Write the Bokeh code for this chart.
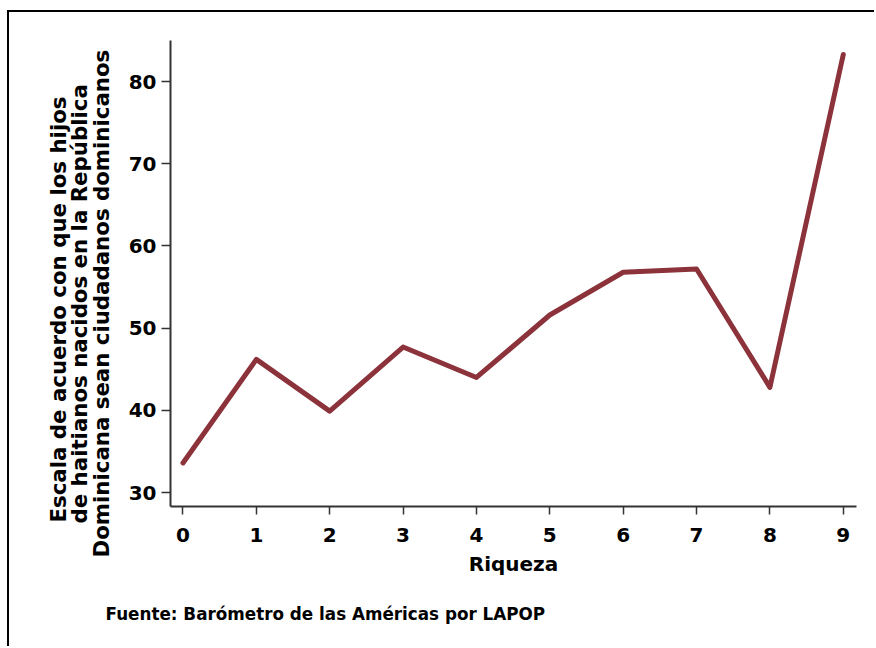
from bokeh.plotting import figure
from bokeh.models import Range1d, FixedTicker, Title
from bokeh.embed import file_html
from bokeh.resources import INLINE

riqueza = [0, 1, 2, 3, 4, 5, 6, 7, 8, 9]
escala = [33.6, 46.2, 39.9, 47.7, 44.0, 51.6, 56.8, 57.2, 42.8, 83.3]
x_ticks = [0, 1, 2, 3, 4, 5, 6, 7, 8, 9]
y_ticks = [30, 40, 50, 60, 70, 80]
y_title = ["Escala de acuerdo con que los hijos",
           "de haitianos nacidos en la República",
           "Dominicana sean ciudadanos dominicanos"]
x_title = "Riqueza"
fuente = "Fuente: Barómetro de las Américas por LAPOP"

FONT = "DejaVu Sans"

p = figure(width=867, height=636, output_backend="svg", toolbar_location=None,
           x_range=Range1d(-0.17, 9.18), y_range=Range1d(28.3, 85),
           min_border_left=161, min_border_right=20, min_border_top=28,
           min_border_bottom=142)
p.styles = {"border-left": "2px solid black", "border-top": "2px solid black",
            "margin-left": "7px", "margin-top": "10px"}
p.outline_line_color = None
p.xgrid.grid_line_color = None
p.ygrid.grid_line_color = None
p.background_fill_color = "white"
p.border_fill_color = "white"

p.line(riqueza, escala, line_color="#8B323A", line_width=5,
       line_cap="round", line_join="round")

for ax in (p.xaxis[0], p.yaxis[0]):
    ax.axis_line_color = "#333333"
    ax.axis_line_width = 2
    ax.major_tick_line_color = "#333333"
    ax.major_tick_line_width = 1.5
    ax.minor_tick_line_color = None
    ax.major_tick_in = 0
    ax.major_label_text_font = FONT
    ax.major_label_text_font_style = "bold"
    ax.major_label_text_font_size = "20px"
    ax.major_label_text_color = "black"

p.xaxis[0].ticker = FixedTicker(ticks=x_ticks)
p.xaxis[0].major_tick_out = 8
p.xaxis[0].major_label_standoff = 13
p.xaxis[0].axis_label = x_title
p.xaxis[0].axis_label_text_font = FONT
p.xaxis[0].axis_label_text_font_style = "bold"
p.xaxis[0].axis_label_text_font_size = "20px"
p.xaxis[0].axis_label_text_color = "black"
p.xaxis[0].axis_label_standoff = 7

p.yaxis[0].ticker = FixedTicker(ticks=y_ticks)
p.yaxis[0].major_tick_out = 9
p.yaxis[0].major_label_standoff = 5

# small spacer between the tick labels and the y-axis title
p.add_layout(Title(text=" ", standoff=9, text_font_size="1px"), "left")

# y-axis title: three stacked lines, innermost first (line 3, 2, 1)
offsets = [-51, -17, -16]
standoffs = [0, -11, 0]
for txt, off, so in zip(reversed(y_title), offsets, standoffs):
    p.add_layout(Title(text=txt, align="left", offset=off, standoff=so,
                       text_font=FONT, text_font_style="bold",
                       text_font_size="21.3px", text_color="black"), "left")

p.add_layout(Title(text=fuente, align="left", offset=-65, standoff=46,
                   text_font=FONT, text_font_style="bold",
                   text_font_size="16.8px", text_color="black"), "below")

open("out.html", "w").write(file_html(p, INLINE))
